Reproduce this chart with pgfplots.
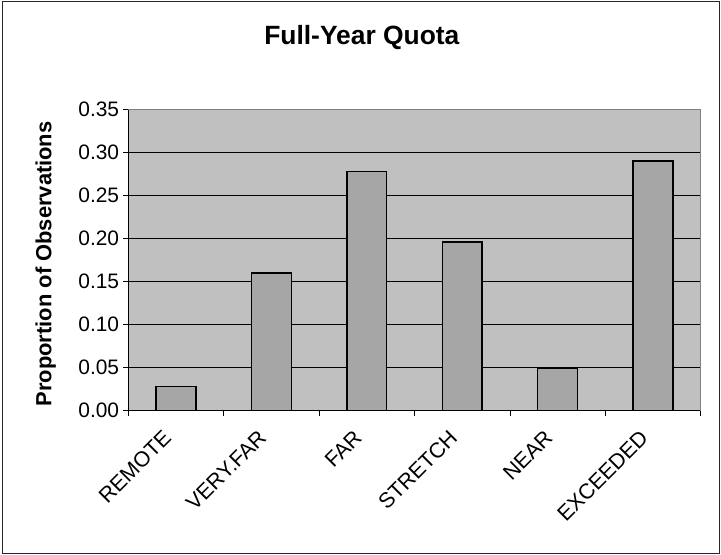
\documentclass[border=0pt]{standalone}
\usepackage{pgfplots}
\pgfplotsset{compat=1.18}
\usepackage{fontspec}
\setmainfont{Liberation Sans}

\definecolor{plotbg}{RGB}{192,192,192}
\definecolor{barfill}{RGB}{166,166,166}
\definecolor{frameline}{RGB}{128,128,128}

\begin{document}
\begin{tikzpicture}[x=1bp,y=1bp]
\useasboundingbox (0,0) rectangle (721,555);
\draw[line width=1.4bp,black!85] (2.5,1.5) rectangle (719.5,553.5);
\begin{axis}[
  at={(128.3bp,144.3bp)}, anchor=south west,
  scale only axis,
  width=572.4bp, height=301.4bp,
  xmin=-0.5, xmax=5.5,
  ymin=0, ymax=0.35,
  ytick={0,0.05,...,0.351},
  xtick={0,...,5},
  xticklabels={REMOTE,VERY.FAR,FAR,STRETCH,NEAR,EXCEEDED},
  major x tick style={draw=none},
  minor xtick={-0.5,0.5,...,5.6},
  minor tick length=5bp,
  major tick length=5bp,
  tick align=outside,
  xtick pos=bottom, ytick pos=left,
  tick style={black, line width=0.8bp},
  ymajorgrids,
  grid style={black, line width=0.8bp},
  axis line style={black, line width=0.9bp},
  axis background/.style={fill=plotbg},
  /pgf/number format/assume math mode=true,
  yticklabel style={font=\fontsize{21}{25}\selectfont, inner sep=4bp,
    /pgf/number format/fixed,
    /pgf/number format/fixed zerofill, /pgf/number format/precision=2},
  xticklabel style={font=\fontsize{21.5}{25}\selectfont, rotate=45,
    anchor=north east, inner sep=0bp, xshift=-19bp, yshift=1bp},
  ylabel={Proportion of Observations},
  ylabel style={font=\bfseries\fontsize{22}{26}\selectfont, inner sep=0pt,
    at={(axis description cs:-0.126,0.487)}, anchor=south},
  title={Full-Year Quota},
  title style={font=\bfseries\fontsize{26.5}{31}\selectfont, yshift=0pt,
    at={(axis description cs:0.408,1.217)}, anchor=center},
  after end axis/.code={
    \draw[frameline, line width=0.9bp] (rel axis cs:0,1) -- (rel axis cs:1,1) -- (rel axis cs:1,0);
  },
]
\addplot[ybar, bar width=39.75bp, fill=barfill, draw=black, line width=1.5bp]
  coordinates {(0,0.028) (1,0.160) (2,0.278) (3,0.196) (4,0.049) (5,0.290)};
\end{axis}
\end{tikzpicture}
\end{document}
